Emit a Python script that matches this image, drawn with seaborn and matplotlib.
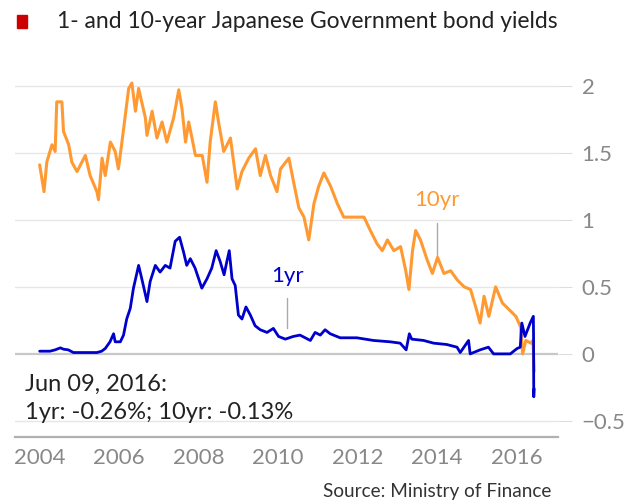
import matplotlib
matplotlib.use('Agg')
import matplotlib.pyplot as plt
import matplotlib.patches as mpatches
import seaborn as sns
import pandas as pd

# values (decimal year, yield in %)
yr10_x = [2004.00, 2004.11, 2004.18, 2004.31, 2004.39, 2004.43, 2004.56, 2004.60, 2004.73, 2004.81,
          2004.94, 2005.15, 2005.27, 2005.44, 2005.48, 2005.57, 2005.65, 2005.78, 2005.90, 2005.98,
          2006.07, 2006.24, 2006.32, 2006.41, 2006.49, 2006.66, 2006.70, 2006.83, 2006.95, 2007.08,
          2007.20, 2007.37, 2007.50, 2007.58, 2007.67, 2007.75, 2007.92, 2008.09, 2008.21, 2008.29,
          2008.42, 2008.50, 2008.63, 2008.80, 2008.97, 2009.09, 2009.26, 2009.43, 2009.55, 2009.68,
          2009.81, 2009.97, 2010.06, 2010.27, 2010.39, 2010.52, 2010.65, 2010.77, 2010.90, 2011.02,
          2011.15, 2011.32, 2011.49, 2011.65, 2011.90, 2012.16, 2012.32, 2012.49, 2012.62, 2012.75,
          2012.91, 2013.08, 2013.21, 2013.29, 2013.38, 2013.46, 2013.58, 2013.75, 2013.88, 2014.01,
          2014.17, 2014.34, 2014.51, 2014.68, 2014.84, 2014.97, 2015.08, 2015.18, 2015.30, 2015.47,
          2015.64, 2015.81, 2015.98, 2016.10, 2016.15, 2016.23, 2016.36, 2016.41, 2016.44]
yr10_y = [1.41, 1.21, 1.43, 1.56, 1.51, 1.88, 1.88, 1.66, 1.56, 1.43,
          1.36, 1.48, 1.33, 1.21, 1.15, 1.46, 1.33, 1.58, 1.51, 1.38,
          1.58, 1.98, 2.02, 1.81, 1.98, 1.76, 1.63, 1.81, 1.61, 1.73,
          1.58, 1.76, 1.97, 1.83, 1.58, 1.73, 1.48, 1.48, 1.28, 1.58,
          1.88, 1.73, 1.51, 1.61, 1.23, 1.36, 1.46, 1.53, 1.33, 1.48,
          1.33, 1.21, 1.38, 1.46, 1.28, 1.09, 1.02, 0.85, 1.12, 1.25,
          1.35, 1.25, 1.12, 1.02, 1.02, 1.02, 0.92, 0.82, 0.77, 0.85,
          0.77, 0.80, 0.62, 0.48, 0.77, 0.92, 0.85, 0.70, 0.60, 0.72,
          0.60, 0.62, 0.55, 0.50, 0.48, 0.35, 0.23, 0.43, 0.28, 0.50,
          0.38, 0.33, 0.28, 0.20, 0.00, 0.10, 0.08, 0.10, -0.13]

yr1_x = [2004.00, 2004.26, 2004.39, 2004.52, 2004.60, 2004.72, 2004.85, 2005.10, 2005.44, 2005.56,
         2005.65, 2005.77, 2005.86, 2005.90, 2006.03, 2006.11, 2006.19, 2006.28, 2006.36, 2006.49,
         2006.57, 2006.70, 2006.78, 2006.91, 2007.03, 2007.16, 2007.28, 2007.41, 2007.52, 2007.62,
         2007.70, 2007.79, 2007.91, 2008.08, 2008.21, 2008.33, 2008.44, 2008.54, 2008.64, 2008.71,
         2008.77, 2008.84, 2008.92, 2009.00, 2009.09, 2009.19, 2009.30, 2009.42, 2009.55, 2009.72,
         2009.88, 2010.01, 2010.18, 2010.38, 2010.55, 2010.81, 2010.93, 2011.06, 2011.18, 2011.31,
         2011.56, 2011.98, 2012.40, 2012.82, 2013.07, 2013.22, 2013.30, 2013.36, 2013.66, 2013.91,
         2014.24, 2014.50, 2014.58, 2014.79, 2014.83, 2015.08, 2015.29, 2015.42, 2015.84, 2016.01,
         2016.09, 2016.13, 2016.21, 2016.34, 2016.42, 2016.425, 2016.43, 2016.44]
yr1_y = [0.02, 0.02, 0.03, 0.045, 0.035, 0.03, 0.01, 0.01, 0.01, 0.02,
         0.04, 0.09, 0.15, 0.09, 0.09, 0.14, 0.26, 0.34, 0.49, 0.66,
         0.56, 0.39, 0.54, 0.66, 0.61, 0.66, 0.64, 0.84, 0.87, 0.76,
         0.66, 0.71, 0.64, 0.49, 0.56, 0.64, 0.77, 0.69, 0.59, 0.69,
         0.77, 0.56, 0.51, 0.29, 0.26, 0.35, 0.29, 0.21, 0.18, 0.16,
         0.19, 0.13, 0.11, 0.13, 0.14, 0.10, 0.16, 0.14, 0.18, 0.15,
         0.12, 0.12, 0.10, 0.09, 0.08, 0.03, 0.15, 0.11, 0.10, 0.08,
         0.07, 0.05, 0.01, 0.10, 0.00, 0.03, 0.05, 0.00, 0.00, 0.04,
         0.05, 0.23, 0.13, 0.23, 0.28, 0.13, -0.32, -0.26]

x_ticks = [2004, 2006, 2008, 2010, 2012, 2014, 2016]
y_ticks = [-0.5, 0, 0.5, 1, 1.5, 2]

ORANGE = '#ff9a33'
BLUE = '#0000cc'
GREY = '#888888'

sns.set_style('white')
plt.rcParams['font.family'] = ['Lato', 'DejaVu Sans']

df10 = pd.DataFrame({'year': yr10_x, 'yield': yr10_y})
df1 = pd.DataFrame({'year': yr1_x, 'yield': yr1_y})

fig = plt.figure(figsize=(6.36, 5.04), dpi=100)
ax = fig.add_axes([15 / 636, 1 - 437 / 504, 543 / 636, 379 / 504])

sns.lineplot(data=df10, x='year', y='yield', color=ORANGE, lw=2.2, ax=ax)
sns.lineplot(data=df1, x='year', y='yield', color=BLUE, lw=2.0, ax=ax)

ax.set_xlim(2003.38, 2017.04)
ax.set_ylim(-0.62, 2.207)

# grid and zero line
for v in y_ticks:
    if v == 0:
        ax.axhline(v, color='#c8c8c8', lw=1.6, zorder=0)
    else:
        ax.axhline(v, color='#e6e6e6', lw=1.0, zorder=0)

ax.set_xticks(x_ticks)
ax.set_xticks(range(2004, 2018), minor=True)
ax.set_xticklabels([str(t) for t in x_ticks])
ax.tick_params(axis='x', which='both', direction='in', length=8, color='#c8c8c8',
               labelsize=16, labelcolor=GREY, pad=8)

ax.yaxis.tick_right()
ax.set_yticks(y_ticks)
ax.set_yticklabels(['\u22120.5', '0', '0.5', '1', '1.5', '2'])
ax.tick_params(axis='y', direction='out', length=10, color='#dddddd',
               labelsize=16, labelcolor=GREY, pad=7)

for s in ['top', 'left', 'right']:
    ax.spines[s].set_visible(False)
ax.spines['bottom'].set_color('#b0b0b0')
ax.spines['bottom'].set_linewidth(1.6)
ax.set_xlabel('')
ax.set_ylabel('')

# series labels with leader lines
ax.plot([2010.23, 2010.23], [0.19, 0.42], color='#aaaaaa', lw=1)
ax.text(2010.24, 0.51, '1yr', color=BLUE, fontsize=16, ha='center', va='bottom')
ax.plot([2014.0, 2014.0], [0.74, 0.975], color='#aaaaaa', lw=1)
ax.text(2014.0, 1.07, '10yr', color=ORANGE, fontsize=16, ha='center', va='bottom')

# title
fig.patches.append(mpatches.Rectangle((17 / 636, 1 - 28 / 504), 10 / 636, 13 / 504,
                                      transform=fig.transFigure, color='#cc0000'))
fig.text(57 / 636, 1 - 22 / 504, '1- and 10-year Japanese Government bond yields',
         fontsize=16.5, color='#222222', va='center')

fig.text(25 / 636, 1 - 391 / 504, 'Jun 09, 2016:', fontsize=17, color='#222222', va='baseline')
fig.text(25 / 636, 1 - 419 / 504, '1yr: -0.26%; 10yr: -0.13%', fontsize=17, color='#222222',
         va='baseline')

fig.text(551 / 636, 1 - 492 / 504, 'Source: Ministry of Finance', fontsize=13.7,
         color='#333333', ha='right', va='center')

fig.savefig('out.png', dpi=100)
